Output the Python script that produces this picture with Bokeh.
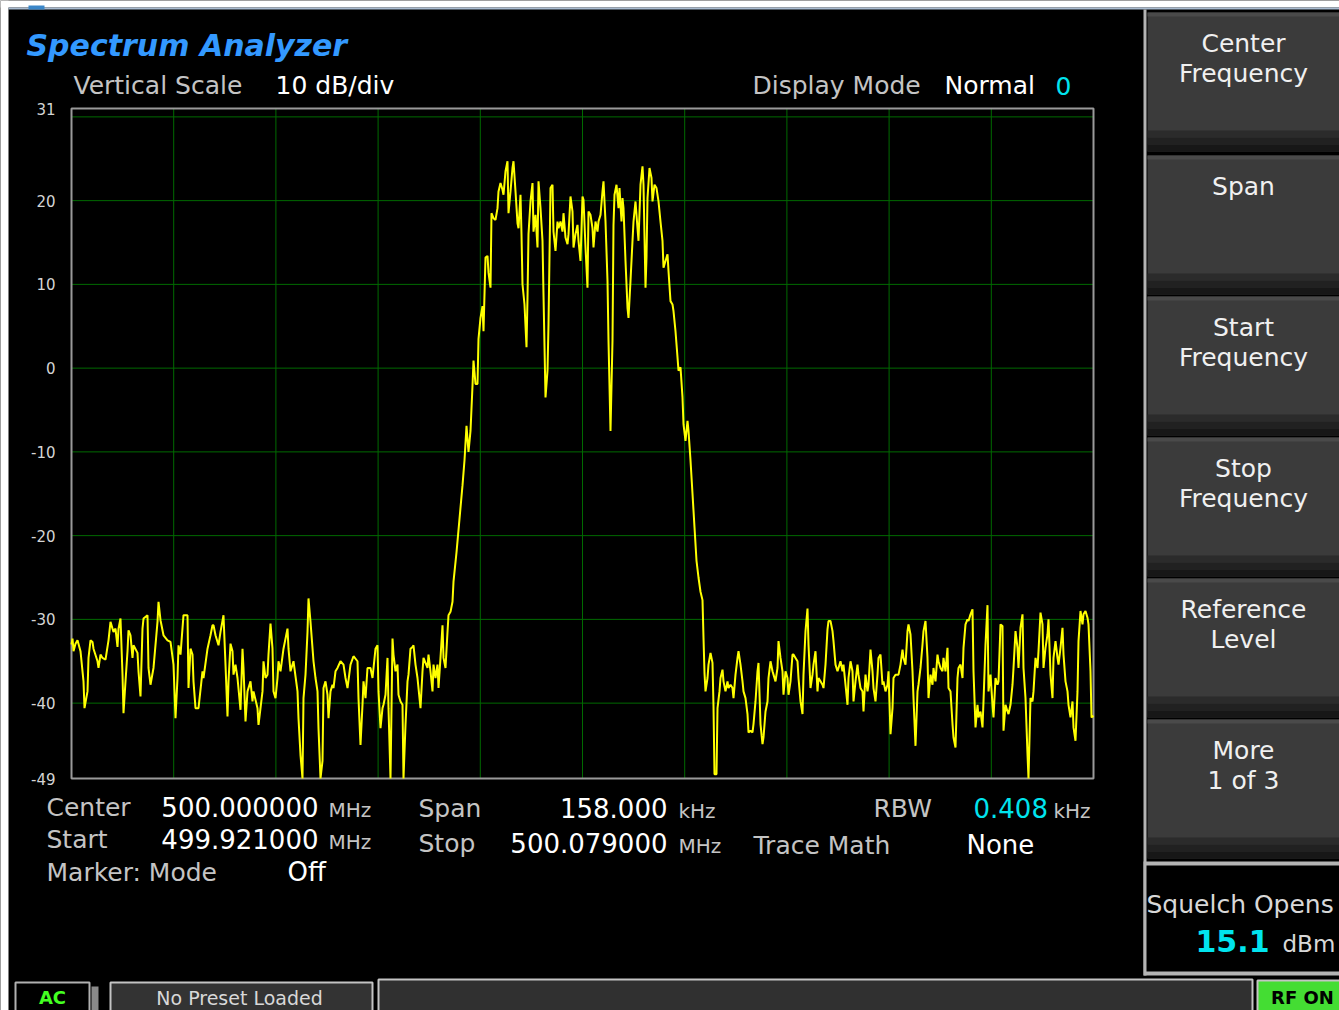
from bokeh.plotting import figure
from bokeh.models import Range1d
from bokeh.core.properties import value
from bokeh.embed import file_html
from bokeh.resources import INLINE

# ---------------- data ----------------
START_MHZ = 499.921
STOP_MHZ = 500.079
SPAN_MHZ = STOP_MHZ - START_MHZ
SWEEP_INTERVALS = 1022
REF_TOP_DB = 31
REF_BOTTOM_DB = -49
X_DIVISIONS = 10

y_tick_values = [31, 20, 10, 0, -10, -20, -30, -40, -49]
y_tick_labels = ["31", "20", "10", "0", "-10", "-20", "-30", "-40", "-49"]
y_grid_values = [30, 20, 10, 0, -10, -20, -30, -40]

sweep_point = [
    0, 1, 2, 4, 6, 9, 12, 13, 16, 17, 19, 21, 22, 26, 27, 29, 31, 34, 37, 39, 42,
    44, 46, 47, 49, 51, 52, 54, 56, 57, 59, 61, 62, 66, 67, 69, 71, 72, 76, 77, 79,
    82, 86, 87, 89, 92, 96, 99, 102, 104, 106, 107, 109, 112, 116, 117, 119, 121, 122, 124, 127,
    131, 132, 136, 139, 141, 142, 144, 147, 149, 152, 154, 156, 157, 159, 161, 162, 164, 166, 169, 171,
    172, 174, 176, 179, 181, 182, 186, 187, 189, 191, 192, 194, 196, 197, 199, 201, 202, 204, 206, 207,
    209, 212, 216, 217, 219, 222, 226, 227, 229, 231, 232, 234, 236, 237, 239, 242, 244, 246, 247, 249,
    251, 252, 254, 256, 257, 259, 261, 262, 264, 266, 269, 272, 274, 276, 279, 282, 286, 287, 289, 291,
    292, 294, 296, 299, 301, 304, 306, 307, 309, 311, 312, 314, 316, 317, 319, 321, 322, 324, 326, 327,
    329, 331, 332, 334, 336, 337, 339, 341, 342, 344, 346, 347, 349, 351, 352, 356, 357, 359, 361, 362,
    364, 366, 367, 369, 371, 372, 374, 376, 377, 379, 381, 382, 385, 388, 391,
    393, 395, 397, 399, 401, 402, 404, 406, 407, 409, 411, 412, 414, 416, 417, 419, 420, 422, 424, 426,
    427, 429, 431, 432, 434, 436, 437, 439, 441, 442, 444, 446, 447, 449, 450, 451, 453, 455, 456, 457,
    459, 461, 462, 464, 466, 467, 469, 471, 472, 474, 476, 477, 479, 481, 482, 484, 486, 487, 489, 491,
    492, 494, 496, 497, 499, 501, 502, 504, 506, 507, 509, 511, 512, 514, 516, 517, 519, 521, 522, 524,
    526, 527, 529, 531, 532, 534, 536, 537, 539, 541, 542, 543, 545, 547, 548, 550, 551, 552, 554, 556,
    557, 559, 561, 562, 564, 566, 567, 569, 571, 572, 574, 575, 576, 578, 580, 581, 583, 585, 587, 589,
    591, 592, 594, 596, 597, 599, 601, 602, 604, 606, 607, 609, 611, 612, 614, 616, 617, 619, 621, 623,
    625, 627,
    629, 631, 632, 633, 634, 636, 637, 639, 641, 642, 643, 645, 646, 648, 649, 651, 652, 654, 656, 657,
    659, 661, 662, 664, 666, 667, 669, 671, 672, 674, 676, 677, 679, 681, 682, 684, 686, 687, 689, 691,
    692, 694, 696, 697, 699, 701, 702, 704, 706, 707, 709, 711, 712, 714, 716, 717, 719, 721, 722, 724,
    726, 727, 729, 731, 732, 734, 736, 737, 739, 741, 742, 744, 746, 747, 749, 751, 752, 754, 756, 757,
    759, 761, 762, 764, 766, 767, 769, 771, 772, 774, 776, 777, 779, 781, 782, 784, 786, 787, 789, 791,
    792, 794, 796, 797, 799, 801, 802, 804, 806, 807, 809, 811, 812, 814, 816, 817, 819, 821, 822, 824,
    826, 827, 829, 831, 832, 834, 836, 837, 839, 841, 842, 844, 846, 847, 849, 851, 852, 854, 856, 857,
    859, 861, 862, 864, 866, 867, 869, 871, 872, 874, 876, 877, 879, 881, 882, 884, 886, 887, 889, 891,
    892, 894, 896, 897, 899, 901, 902, 904, 906, 907, 909, 911, 912, 914, 916, 917, 919, 921, 922, 924,
    926, 927, 929, 931, 932, 934, 936, 937, 939, 941, 942, 944, 946, 947, 949, 951, 952, 954, 956, 957,
    959, 961, 962, 964, 966, 967, 969, 971, 972, 974, 976, 977, 979, 981, 982, 984, 986, 987, 989, 991,
    992, 994, 996, 997, 999, 1001, 1002, 1004, 1006, 1007, 1009, 1011, 1012, 1014, 1016, 1017, 1019, 1020, 1022,
]

level_dbm = [
    -33.0, -32.3, -33.8, -32.9, -32.5, -33.8, -37.4, -40.6, -38.6, -34.6, -32.5, -32.7, -33.5, -35.0, -35.8, -34.2, -34.6, -34.8, -32.5, -30.3, -31.5,
    -31.1, -33.3, -31.1, -29.9, -36.6, -41.2, -37.4, -33.8, -31.3, -31.9, -34.6, -33.1, -34.0, -36.2, -39.2, -31.1, -29.9, -29.5, -35.8, -37.8,
    -35.8, -30.3, -27.9, -30.1, -31.9, -32.5, -32.7, -35.4, -41.8, -37.0, -33.1, -34.2, -29.5, -29.5, -38.2, -33.5, -34.2, -37.4, -40.6, -40.6,
    -36.2, -37.0, -33.5, -31.9, -30.7, -30.7, -31.9, -33.1, -31.5, -29.5, -35.4, -41.6, -37.4, -32.9, -33.8, -36.6, -35.4, -37.0, -40.8, -33.5,
    -35.8, -42.2, -38.6, -37.4, -39.8, -38.6, -40.6, -42.6, -40.6, -38.6, -35.0, -37.0, -36.6, -34.2, -30.5, -33.5, -38.6, -39.4, -37.0, -35.0,
    -36.2, -33.5, -31.1, -33.5, -36.2, -35.0, -38.6, -41.8, -46.2, -49.0, -39.4, -36.6, -31.5, -27.5, -30.3, -35.0, -37.0, -38.6, -43.0, -49.0,
    -46.9, -38.2, -37.4, -39.0, -41.8, -38.6, -37.8, -38.2, -36.2, -35.8, -35.0, -35.4, -37.0, -38.2, -35.4, -34.4, -35.0, -39.4, -45.0, -40.2,
    -37.4, -39.4, -35.8, -35.8, -37.0, -33.5, -33.1, -38.6, -43.0, -40.6, -40.2, -39.0, -34.6, -40.6, -49.0, -32.3, -34.2, -36.2, -35.4, -39.0,
    -39.8, -40.2, -49.0, -42.6, -37.4, -36.6, -33.5, -33.3, -33.1, -35.4, -37.0, -38.2, -40.6, -36.2, -34.6, -35.8, -34.2, -36.2, -38.6, -35.4,
    -37.0, -35.4, -38.2, -34.6, -30.7, -34.6, -35.8, -31.5, -29.5, -29.1, -27.9, -25.5, -22.0, -18.0, -14.0,
    -11.0, -6.9, -10.0, -7.5, -2.1, 0.9, -1.9, -1.9, 3.5, 6.0, 7.4, 4.4, 13.2, 13.4, 11.4, 9.6, 18.5, 17.9, 17.7, 19.1,
    21.1, 22.1, 21.3, 20.7, 23.5, 24.7, 18.5, 21.1, 23.9, 24.7, 21.1, 17.3, 16.7, 20.7, 16.0, 10.0, 7.6, 2.5, 8.4, 16.0,
    19.9, 22.1, 16.3, 18.3, 14.4, 22.3, 19.1, 15.2, 8.8, -3.5, -0.3, 5.2, 21.5, 21.9, 16.3, 14.0, 17.5, 16.7, 17.5, 16.3,
    18.5, 15.6, 14.8, 16.0, 20.5, 18.7, 14.4, 16.0, 17.1, 15.2, 12.8, 20.5, 20.1, 14.4, 9.6, 18.7, 18.3, 16.7, 14.4, 17.5,
    16.3, 17.5, 18.3, 21.1, 22.3, 17.5, 10.4, 3.3, -7.5, 3.3, 17.1, 20.7, 21.9, 19.1, 21.5, 17.5, 20.3, 19.1, 12.8, 7.2,
    6.0, 10.4, 15.2, 17.5, 19.9, 16.7, 15.2, 21.9, 24.1, 21.9, 9.6, 13.2, 20.3, 23.9, 22.7, 19.9, 21.9, 21.5, 19.9, 17.5,
    15.2, 12.0, 12.8, 13.6, 11.6, 8.0, 7.6, 6.8, 4.4, 1.3, -0.3, 0.1, -3.5, -6.7, -8.7, -6.3, -7.5, -11.0, -15.0, -19.0,
    -23.0, -25.0,
    -26.7, -27.7, -32.2, -36.4, -38.6, -37.0, -35.4, -34.0, -35.2, -40.4, -48.5, -48.5, -40.6, -38.6, -37.0, -36.0, -37.4, -38.6, -37.4, -38.2,
    -37.8, -38.2, -39.4, -36.6, -34.6, -33.8, -35.4, -37.4, -38.6, -39.4, -41.3, -43.5, -43.3, -43.5, -42.5, -39.8, -36.2, -35.2, -42.5, -44.9,
    -44.1, -41.0, -39.8, -37.0, -35.0, -36.2, -36.6, -37.4, -35.8, -32.6, -34.6, -36.2, -39.0, -36.2, -37.0, -39.0, -37.4, -34.2, -34.2, -34.6,
    -35.0, -37.0, -39.8, -41.3, -36.6, -31.4, -28.7, -33.0, -38.2, -36.6, -35.4, -33.8, -38.6, -37.0, -37.4, -37.8, -38.2, -35.4, -31.2, -30.2,
    -30.2, -31.4, -32.6, -35.4, -36.2, -35.8, -35.0, -36.2, -35.4, -37.8, -40.2, -37.0, -35.0, -36.2, -39.8, -37.4, -35.4, -36.6, -38.2, -38.6,
    -41.0, -36.6, -38.6, -37.8, -33.6, -36.2, -38.2, -39.8, -36.6, -34.6, -34.2, -37.8, -37.4, -38.6, -37.8, -36.2, -43.7, -40.6, -37.0, -36.6,
    -36.6, -36.6, -35.4, -33.6, -34.6, -35.4, -31.4, -30.6, -31.8, -36.2, -39.4, -45.1, -38.6, -37.8, -35.8, -33.0, -31.4, -30.2, -34.6, -39.4,
    -36.6, -37.8, -35.8, -37.4, -34.2, -35.0, -35.8, -36.2, -34.6, -36.2, -33.4, -38.2, -38.6, -42.5, -44.1, -45.3, -37.0, -35.8, -35.4, -37.0,
    -33.4, -30.6, -30.0, -30.2, -29.4, -28.8, -36.2, -42.9, -40.2, -41.7, -41.0, -42.9, -39.8, -33.0, -28.3, -38.6, -36.6, -40.2, -41.7, -37.0,
    -37.8, -37.4, -30.6, -30.8, -43.3, -40.2, -41.0, -41.3, -40.2, -37.8, -35.8, -31.4, -33.4, -35.8, -31.0, -29.4, -35.8, -39.4, -46.1, -49.0,
    -39.4, -39.8, -38.6, -34.6, -35.8, -33.8, -29.2, -30.6, -35.8, -33.4, -31.8, -30.0, -36.6, -39.4, -34.6, -32.6, -34.6, -35.4, -33.4, -31.0,
    -34.2, -37.4, -38.6, -40.2, -41.7, -39.8, -42.9, -44.5, -38.6, -32.6, -29.0, -30.6, -29.4, -29.0, -29.8, -30.6, -36.2, -41.7, -41.5,
]

softkey_labels = [
    ["Center", "Frequency"],
    ["Span"],
    ["Start", "Frequency"],
    ["Stop", "Frequency"],
    ["Reference", "Level"],
    ["More", "1 of 3"],
]

freq_mhz = [START_MHZ + pt * SPAN_MHZ / SWEEP_INTERVALS for pt in sweep_point]
x_grid_values = [START_MHZ + i * SPAN_MHZ / X_DIVISIONS for i in range(1, X_DIVISIONS)]

# ---------------- layout ----------------
W, H = 1339, 1010

FONT = "DejaVu Sans"
GRAY = "#c4c4c4"
WHITE = "#ffffff"
CYAN = "#00e4ee"
GRID = "#006a00"

# plot area in canvas pixels
fl, fr = 71, 1093
ft, fb = 108, 778

# screen-space frame: the whole canvas, y growing downward
p = figure(
    width=W, height=H, title=None,
    x_range=Range1d(0, W), y_range=Range1d(H, 0),
    output_backend="svg", toolbar_location=None,
    x_axis_location=None, y_axis_location=None,
    min_border=0, min_border_left=0, min_border_right=0,
    min_border_top=0, min_border_bottom=0,
    background_fill_color="black", border_fill_color="black",
    outline_line_color=None,
)
p.xgrid.visible = False
p.ygrid.visible = False

# data ranges placed so that START..STOP and -49..31 dB fill the plot area
px_per_mhz = (fr - fl) / SPAN_MHZ
px_per_db = (fb - ft) / (REF_TOP_DB - REF_BOTTOM_DB)
p.extra_x_ranges = {"freq": Range1d(START_MHZ - fl / px_per_mhz,
                                    START_MHZ + (W - fl) / px_per_mhz)}
p.extra_y_ranges = {"db": Range1d(REF_BOTTOM_DB - (H - fb) / px_per_db,
                                  REF_TOP_DB + ft / px_per_db)}


def box(X0, Y0, X1, Y1, fill, line=None, lw=0):
    p.quad(left=[X0], right=[X1], top=[Y0], bottom=[Y1],
           fill_color=fill, line_color=line, line_width=lw)


def txt(s, X, Y, size, color, align="left", style="normal"):
    # Y is the vertical centre of the capitals
    p.text(x=[X], y=[Y], text=[s], text_font=value(FONT),
           text_font_size=f"{size}px", text_color=color, text_align=align,
           text_baseline="middle", text_font_style=style)


# page margin strips and window edge
box(0, 0, W, 7, "#ffffff")
box(0, 0, 8, H, "#ffffff")
box(8, 7, W, 9, "#a9bbd0")
box(28, 5, 44, 9, "#3a86c8")

# ---- graticule ----
p.segment(x0=fl, x1=fr, y0=y_grid_values, y1=y_grid_values, y_range_name="db",
          line_color=GRID, line_width=1)
p.segment(x0=x_grid_values, x1=x_grid_values, y0=ft, y1=fb, x_range_name="freq",
          line_color=GRID, line_width=1)
p.quad(left=[fl], right=[fr], top=[ft], bottom=[fb], fill_color=None,
       line_color="#9a9a9a", line_width=2)
p.text(x=fl - 16, y=y_tick_values, text=y_tick_labels, y_range_name="db",
       text_font=value(FONT), text_font_size="15px", text_color="#d4d4d4",
       text_align="right", text_baseline="middle")

# ---- trace ----
p.line(freq_mhz, level_dbm, x_range_name="freq", y_range_name="db",
       line_color="#ffff00", line_width=2)

# ---- header ----
txt("Spectrum Analyzer", 26, 45, 30, "#3399ff", style="bold italic")
txt("Vertical Scale", 73, 85, 25, GRAY)
txt("10 dB/div", 275, 85, 25, WHITE)
txt("Display Mode", 752, 85, 25, GRAY)
txt("Normal", 944, 85, 25, WHITE)
txt("0", 1055, 85, 25, CYAN)

# ---- bottom info ----
txt("Center", 46, 807, 25, GRAY)
txt("500.000000", 318, 806.5, 26, WHITE, align="right")
txt("MHz", 328, 809, 20, GRAY)
txt("Start", 46, 839, 25, GRAY)
txt("499.921000", 318, 838.5, 26, WHITE, align="right")
txt("MHz", 328, 841, 20, GRAY)
txt("Marker: Mode", 46, 872, 25, GRAY)
txt("Off", 287, 871.5, 26, WHITE)

txt("Span", 418, 808, 25, GRAY)
txt("158.000", 667, 807.5, 26, WHITE, align="right")
txt("kHz", 678, 810, 20, GRAY)
txt("Stop", 418, 843, 25, GRAY)
txt("500.079000", 667, 842.5, 26, WHITE, align="right")
txt("MHz", 678, 845, 20, GRAY)

txt("RBW", 873, 808, 25, GRAY)
txt("0.408", 973, 807.5, 26, CYAN)
txt("kHz", 1053, 810, 20, GRAY)
txt("Trace Math", 753, 845, 25, GRAY)
txt("None", 966, 844.5, 26, WHITE)

# ---- soft keys ----
box(1143, 9, 1146, 975, "#b4b4b4")
button_tops = [12, 155, 296, 437, 578, 719]
button_h = 139
for top, lines in zip(button_tops, softkey_labels):
    bot = top + button_h
    box(1147, top, W, bot, "#3b3b3b")
    box(1147, top, W, top + 4, "#4a4a4a")
    box(1147, bot - 21, W, bot - 14, "#2b2b2b")
    box(1147, bot - 14, W, bot - 7, "#212121")
    box(1147, bot - 7, W, bot, "#171717")
    for i, s in enumerate(lines):
        txt(s, 1243, top + 31 + 30 * i, 25, "#f0f0f0", align="center")

# squelch box
box(1143, 861, W, 975, "#b4b4b4")
box(1146, 865, W, 971, "#000000")
txt("Squelch Opens", 1146, 904, 25, "#d8d8d8")
txt("15.1", 1195, 940, 30, CYAN, style="bold")
txt("dBm", 1282, 943, 23, "#d8d8d8")

# ---- status bar ----
box(15, 982, 89, 1012, "#000000", "#b0b0b0", 2)
txt("AC", 52, 997, 18, "#44ff22", align="center", style="bold")
box(91, 986, 98, 1012, "#8a8a8a")
box(110, 982, 372, 1012, "#333333", "#c4c4c4", 2)
txt("No Preset Loaded", 239, 997, 19, "#d8d8d8", align="center")
box(378, 979, 1252, 1012, "#303030", "#c4c4c4", 2)
box(1257, 980, 1342, 1012, "#44dd33", "#c4c4c4", 2)
txt("RF ON", 1302, 997, 18, "#000000", align="center", style="bold")

open("out.html", "w").write(file_html(p, INLINE))
